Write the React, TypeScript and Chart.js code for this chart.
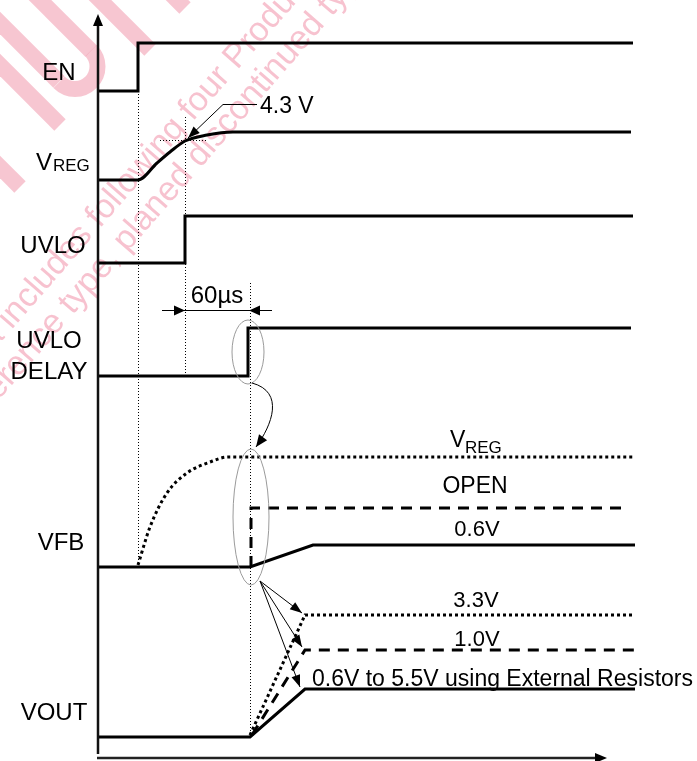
import React, { useEffect, useRef } from "react";
import { Chart, registerables } from "chart.js";

Chart.register(...registerables);

// Time axis t (0 = vertical axis), level axis v (0 = time axis), in drawing units.
const enT = [0, 40, 40, 535];
const enV = [667, 667, 715, 715];
const vregT = [0, 40, 59, 72, 87, 109, 135, 533];
const vregV = [578, 578, 595, 606, 617, 623, 626, 626];
const uvloT = [0, 87, 87, 535];
const uvloV = [495, 495, 542, 542];
const delayT = [0, 150, 150, 533];
const delayV = [382, 382, 430, 430];
const vfbT = [0, 152, 215, 537];
const vfbV = [191, 191, 213, 213];
const vfbOpenT = [153, 153, 525];
const vfbOpenV = [191, 250, 250];
const vfbRegT = [40, 52, 69, 89, 112, 130, 535];
const vfbRegV = [193, 231, 265, 285, 296, 301, 301];
const voutT = [0, 152, 207, 537];
const voutV = [21, 21, 69, 69];
const vout10T = [154, 207, 537];
const vout10V = [23, 108, 108];
const vout33T = [152, 207, 537];
const vout33V = [23, 143, 143];

// axes of the diagram
const yAxisT = [0, 0];
const yAxisV = [4, 734];
const xAxisT = [-1, 499];
const xAxisV = [0, 0];

// dotted guide lines
const guideEnT = [40.5, 40.5];
const guideEnV = [667, 193];
const guideUvloT = [87.5, 87.5];
const guideUvloV = [641, 382];
const guideDelayT = [152.5, 152.5];
const guideDelayV = [475, 21];
const guide43T = [62, 110];
const guide43V = [617.5, 617.5];

// callout lines
const call43T = [159, 125, 90];
const call43V = [653.5, 653.5, 620];
const dimT = [64, 174];
const dimV = [447.5, 447.5];
const fanT = [162, 204, 162, 204, 162, 202];
const fanV = [177, 145, 177, 111, 177, 71];

// arrowheads: [fromT, fromV, tipT, tipV, length, halfWidth]
const arrowHeads: number[][] = [
  [0, 700, 0, 744, 12, 5],
  [470, 0, 509, 0, 12, 5],
  [125, 653.5, 90, 620, 12, 4.5],
  [64, 447.5, 87, 447.5, 11, 5],
  [174, 447.5, 151, 447.5, 11, 5],
  [162, 177, 204, 145, 12, 4.5],
  [162, 177, 204, 111, 12, 4.5],
  [162, 177, 202, 71, 12, 4.5],
];

// curved arrow (bezier) from first ellipse to second
const curveT = [154, 187, 174, 158];
const curveV = [375, 366, 333, 311];

// ellipses: [centerT, centerV, radiusT, radiusV]
const ellipses: number[][] = [
  [150, 406, 16, 32],
  [153, 241, 18, 68],
];

const FONT = "'Liberation Sans', Arial, Helvetica, sans-serif";

// labels: text, t, v, size, align, anchor ("mid" = cap-centred, "base" = baseline)
const labels: [string, number, number, number, CanvasTextAlign, string][] = [
  ["EN", -39, 687, 24, "center", "mid"],
  ["V", -62, 588, 24, "left", "base"],
  ["REG", -45, 587, 17, "left", "base"],
  ["UVLO", -45, 514, 24, "center", "mid"],
  ["UVLO", -49, 419, 24, "center", "mid"],
  ["DELAY", -49, 388, 24, "center", "mid"],
  ["VFB", -37, 217, 24, "center", "mid"],
  ["VOUT", -44, 47, 24, "center", "mid"],
  ["4.3 V", 162, 653, 23, "left", "mid"],
  ["60µs", 119, 464, 24, "center", "mid"],
  ["V", 352, 311, 23, "left", "base"],
  ["REG", 367, 305, 17, "left", "base"],
  ["OPEN", 377, 273, 23, "center", "mid"],
  ["0.6V", 379, 230, 22, "center", "mid"],
  ["3.3V", 378, 159, 22, "center", "mid"],
  ["1.0V", 379, 120, 22, "center", "mid"],
  ["0.6V to 5.5V using External Resistors", 214, 80, 23, "left", "mid"],
];

// watermark text lines: text, start t, start v, size
const watermark: [string, number, number, number][] = [
  ["data includes following four Product types", -136, 371, 34],
  ["reference type, planed discontinued type", -126, 327, 34],
];

// watermark logo strokes (t, v pairs of straight pieces), and the U-bow [centerT, centerV, r]
const logoStrokes: number[][] = [
  [-128, 765, -39, 676],
  [-108, 808, -7, 707],
  [-18, 778, 52, 708],
  [-118, 713, -38, 633],
  [-108, 601, -78, 571],
  [72, 765, 87, 750],
];
const logoBow = [-23, 691.5, 22.5];

const pts = (ts: number[], vs: number[]) => ts.map((x, i) => ({ x, y: vs[i] }));

const solid = (ts: number[], vs: number[], w = 3, color = "#000") => ({
  data: pts(ts, vs),
  borderColor: color,
  borderWidth: w,
  borderCapStyle: "butt" as const,
  borderJoinStyle: "miter" as const,
  pointRadius: 0,
  fill: false,
  tension: 0,
});

const decorPlugin = {
  id: "decor",
  beforeDatasetsDraw(chart: any) {
    const { ctx, scales } = chart;
    const xs = scales.x;
    const ys = scales.y;
    const px = (t: number) => xs.getPixelForValue(t);
    const py = (v: number) => ys.getPixelForValue(v);
    ctx.save();
    // logo strokes
    ctx.strokeStyle = "rgba(236, 120, 145, 0.42)";
    ctx.lineWidth = 16;
    ctx.lineCap = "butt";
    logoStrokes.forEach(([t1, v1, t2, v2]) => {
      ctx.beginPath();
      ctx.moveTo(px(t1), py(v1));
      ctx.lineTo(px(t2), py(v2));
      ctx.stroke();
    });
    const [bt, bv, br] = logoBow;
    ctx.beginPath();
    ctx.arc(px(bt), py(bv), br, (135 * Math.PI) / 180, (-45 * Math.PI) / 180, true);
    ctx.stroke();
    // text lines
    ctx.fillStyle = "rgba(236, 110, 140, 0.42)";
    watermark.forEach(([text, t, v, size]) => {
      ctx.save();
      ctx.translate(px(t), py(v));
      ctx.rotate((-49 * Math.PI) / 180);
      ctx.font = `${size}px ${FONT}`;
      ctx.textAlign = "left";
      ctx.textBaseline = "alphabetic";
      ctx.fillText(text, 0, 0);
      ctx.restore();
    });
    ctx.restore();
  },
  afterDatasetsDraw(chart: any) {
    const { ctx, scales } = chart;
    const xs = scales.x;
    const ys = scales.y;
    const px = (t: number) => xs.getPixelForValue(t);
    const py = (v: number) => ys.getPixelForValue(v);
    ctx.save();
    // ellipses
    ctx.strokeStyle = "#9a9a9a";
    ctx.lineWidth = 1;
    ellipses.forEach(([ct, cv, rt, rv]) => {
      const cx = px(ct);
      const cy = py(cv);
      const rx = Math.abs(px(ct + rt) - cx);
      const ry = Math.abs(py(cv + rv) - cy);
      ctx.beginPath();
      ctx.ellipse(cx, cy, rx, ry, 0, 0, Math.PI * 2);
      ctx.stroke();
    });
    // curved arrow
    ctx.strokeStyle = "#000";
    ctx.lineWidth = 1;
    ctx.beginPath();
    ctx.moveTo(px(curveT[0]), py(curveV[0]));
    ctx.bezierCurveTo(px(curveT[1]), py(curveV[1]), px(curveT[2]), py(curveV[2]), px(curveT[3]), py(curveV[3]));
    ctx.stroke();
    const heads = arrowHeads.concat([[curveT[2], curveV[2], curveT[3], curveV[3], 12, 5]]);
    ctx.fillStyle = "#000";
    heads.forEach(([ft, fv, tt, tv, len, hw]) => {
      const x1 = px(ft);
      const y1 = py(fv);
      const x2 = px(tt);
      const y2 = py(tv);
      const a = Math.atan2(y2 - y1, x2 - x1);
      const bx = x2 - Math.cos(a) * len;
      const by = y2 - Math.sin(a) * len;
      ctx.beginPath();
      ctx.moveTo(x2, y2);
      ctx.lineTo(bx + Math.sin(a) * hw, by - Math.cos(a) * hw);
      ctx.lineTo(bx - Math.sin(a) * hw, by + Math.cos(a) * hw);
      ctx.closePath();
      ctx.fill();
    });
    // labels
    ctx.fillStyle = "#000";
    labels.forEach(([text, t, v, size, align, anchor]) => {
      ctx.font = `${size}px ${FONT}`;
      ctx.textAlign = align;
      ctx.textBaseline = "alphabetic";
      const y = anchor === "mid" ? py(v) + size * 0.358 : py(v);
      ctx.fillText(text, px(t), y);
    });
    ctx.restore();
  },
};

export default function App() {
  const ref = useRef<HTMLCanvasElement | null>(null);
  useEffect(() => {
    document.body.style.margin = "0";
    const canvas = ref.current;
    if (!canvas) return;
    const chart = new Chart(canvas, {
      type: "line",
      data: {
        datasets: [
          solid(yAxisT, yAxisV, 2.5, "#111"),
          solid(xAxisT, xAxisV, 2.5, "#222"),
          { ...solid(guideEnT, guideEnV, 1), borderDash: [1, 2] },
          { ...solid(guideUvloT, guideUvloV, 1), borderDash: [1, 2] },
          { ...solid(guideDelayT, guideDelayV, 1), borderDash: [1, 2] },
          { ...solid(guide43T, guide43V, 1), borderDash: [1, 2] },
          solid(enT, enV),
          { ...solid(vregT, vregV), cubicInterpolationMode: "monotone" },
          solid(uvloT, uvloV),
          solid(delayT, delayV),
          { ...solid(vfbRegT, vfbRegV), borderDash: [3, 3], cubicInterpolationMode: "monotone" },
          { ...solid(vfbOpenT, vfbOpenV), borderDash: [11, 8] },
          solid(vfbT, vfbV),
          { ...solid(vout33T, vout33V), borderDash: [3, 3] },
          { ...solid(vout10T, vout10V), borderDash: [11, 8] },
          solid(voutT, voutV),
          solid(call43T, call43V, 1),
          solid(dimT, dimV, 1),
          ...[0, 2, 4].map((i) => solid(fanT.slice(i, i + 2), fanV.slice(i, i + 2), 1)),
        ] as any,
      },
      options: {
        animation: false,
        responsive: false,
        devicePixelRatio: 1,
        layout: { padding: 0 },
        plugins: {
          legend: { display: false },
          tooltip: { enabled: false },
          title: { display: false },
        },
        scales: {
          x: { type: "linear", min: -98, max: 599, display: false },
          y: { type: "linear", min: -3, max: 758, display: false },
        },
        datasets: { line: { clip: false } } as any,
      },
      plugins: [decorPlugin],
    });
    return () => chart.destroy();
  }, []);
  return (
    <div style={{ width: 697, height: 761, background: "#fff" }}>
      <canvas ref={ref} width={697} height={761} style={{ display: "block" }} />
    </div>
  );
}
